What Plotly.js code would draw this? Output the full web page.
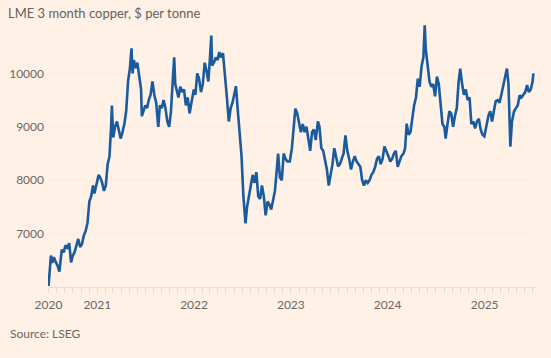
<!DOCTYPE html>
<html>
<head>
<meta charset="utf-8">
<script src="https://cdn.plot.ly/plotly-3.0.1.min.js"></script>
<style>
html,body{margin:0;padding:0;background:#FFF1E5;}
#chart{width:551px;height:358px;}
</style>
</head>
<body>
<div id="chart"></div>
<script>
const dates = [
"2020-07-01","2020-07-03","2020-07-07","2020-07-10","2020-07-15","2020-07-21","2020-07-28","2020-08-04","2020-08-11","2020-08-14",
"2020-08-20","2020-08-27","2020-09-03","2020-09-10","2020-09-17","2020-09-24","2020-09-30","2020-10-07","2020-10-14","2020-10-21",
"2020-10-28","2020-11-04","2020-11-11","2020-11-18","2020-11-25","2020-12-02","2020-12-09","2020-12-16","2020-12-21","2020-12-30",
"2021-01-06","2021-01-12","2021-01-19","2021-01-26","2021-02-02","2021-02-09","2021-02-16","2021-02-22","2021-02-25","2021-03-02",
"2021-03-09","2021-03-16","2021-03-23","2021-03-30","2021-04-06","2021-04-13","2021-04-20","2021-04-27","2021-05-04","2021-05-10",
"2021-05-14","2021-05-19","2021-05-25","2021-06-01","2021-06-08","2021-06-15","2021-06-18","2021-06-24","2021-07-01","2021-07-08",
"2021-07-14","2021-07-21","2021-07-28","2021-08-04","2021-08-11","2021-08-19","2021-08-25","2021-09-01","2021-09-08","2021-09-15",
"2021-09-22","2021-09-29","2021-10-06","2021-10-13","2021-10-18","2021-10-22","2021-10-28","2021-11-03","2021-11-10","2021-11-17",
"2021-11-24","2021-12-01","2021-12-08","2021-12-15","2021-12-22","2021-12-31",
"2022-01-06","2022-01-13","2022-01-20","2022-01-27","2022-02-03","2022-02-10","2022-02-17","2022-02-24","2022-03-02","2022-03-07",
"2022-03-10","2022-03-17","2022-03-24","2022-03-31","2022-04-06","2022-04-12","2022-04-20","2022-04-27","2022-05-04","2022-05-12",
"2022-05-19","2022-05-26","2022-06-02","2022-06-08","2022-06-15","2022-06-22","2022-06-29","2022-07-06","2022-07-14","2022-07-20",
"2022-07-27","2022-08-03","2022-08-10","2022-08-17","2022-08-24","2022-08-31","2022-09-07","2022-09-14","2022-09-21","2022-09-28",
"2022-10-05","2022-10-12","2022-10-19","2022-10-26","2022-11-02","2022-11-09","2022-11-14","2022-11-21","2022-11-28","2022-12-05",
"2022-12-12","2022-12-19","2022-12-28",
"2023-01-05","2023-01-12","2023-01-18","2023-01-25","2023-02-01","2023-02-08","2023-02-15","2023-02-22","2023-03-01","2023-03-08",
"2023-03-15","2023-03-22","2023-03-29","2023-04-05","2023-04-13","2023-04-19","2023-04-26","2023-05-03","2023-05-10","2023-05-17",
"2023-05-24","2023-05-31","2023-06-07","2023-06-14","2023-06-21","2023-06-28","2023-07-05","2023-07-12","2023-07-19","2023-07-26",
"2023-08-02","2023-08-09","2023-08-16","2023-08-23","2023-08-30","2023-09-06","2023-09-13","2023-09-20","2023-09-27","2023-10-04",
"2023-10-11","2023-10-18","2023-10-25","2023-11-01","2023-11-08","2023-11-15","2023-11-22","2023-11-29","2023-12-06","2023-12-13",
"2023-12-20","2023-12-28",
"2024-01-04","2024-01-11","2024-01-18","2024-01-25","2024-02-01","2024-02-08","2024-02-15","2024-02-22","2024-03-01","2024-03-07",
"2024-03-13","2024-03-20","2024-03-27","2024-04-03","2024-04-10","2024-04-17","2024-04-24","2024-05-01","2024-05-08","2024-05-15",
"2024-05-20","2024-05-24","2024-05-31","2024-06-07","2024-06-14","2024-06-21","2024-06-28","2024-07-05","2024-07-12","2024-07-19",
"2024-07-26","2024-08-02","2024-08-07","2024-08-14","2024-08-21","2024-08-28","2024-09-04","2024-09-11","2024-09-18","2024-09-25",
"2024-10-01","2024-10-08","2024-10-15","2024-10-22","2024-10-29","2024-11-05","2024-11-12","2024-11-19","2024-11-26","2024-12-03",
"2024-12-10","2024-12-17","2024-12-24","2024-12-31",
"2025-01-08","2025-01-15","2025-01-22","2025-01-29","2025-02-05","2025-02-12","2025-02-19","2025-02-26","2025-03-05","2025-03-12",
"2025-03-19","2025-03-26","2025-04-01","2025-04-04","2025-04-08","2025-04-14","2025-04-22","2025-04-29","2025-05-06","2025-05-13",
"2025-05-20","2025-05-27","2025-06-03","2025-06-10","2025-06-17","2025-06-24","2025-07-01","2025-07-04"
];
const copperPrice = [
6020,6150,6400,6590,6450,6560,6470,6400,6290,6450,
6700,6650,6780,6740,6820,6460,6580,6650,6760,6900,
6750,6800,6960,7050,7200,7600,7700,7900,7750,7950,
8100,8050,7960,7800,7900,8300,8450,9000,9400,8800,
9000,9100,8950,8780,8900,9050,9300,9850,10100,10470,
10000,10250,10100,10200,9950,9700,9200,9300,9400,9350,
9500,9600,9850,9600,9450,9000,9400,9350,9500,9350,
9100,9000,9300,9900,10300,9800,9650,9550,9750,9650,
9700,9400,9550,9250,9450,9700,
9600,10000,9900,9650,9800,10200,10050,9850,10300,10710,
10150,10200,10300,10250,10400,10300,10380,9900,9600,9100,
9350,9450,9600,9760,9300,8800,8450,7700,7190,7500,
7750,7900,8100,7950,8150,7700,7650,7900,7700,7340,
7600,7550,7450,7600,7800,8200,8500,8050,8000,8500,
8400,8350,8350,
8600,9050,9340,9250,9050,8900,9050,8900,9000,8800,
8550,8900,8950,8750,9100,9000,8600,8550,8400,8200,
7900,8100,8300,8600,8400,8260,8300,8400,8500,8840,
8550,8400,8200,8350,8450,8350,8300,8250,8000,7900,
8000,7950,8000,8100,8150,8250,8400,8450,8300,8400,
8630,8550,
8450,8350,8400,8500,8550,8250,8350,8450,8500,8600,
9060,8850,8900,9200,9400,9550,9900,9750,10130,10300,
10900,10450,10090,9850,9750,9800,9570,9940,9800,9450,
9050,9000,8780,9050,9290,9250,9000,9200,9350,9850,
10090,9800,9600,9700,9500,9550,9050,9100,8970,9100,
9150,8950,8850,8820,
9000,9200,9290,9100,9300,9480,9500,9450,9600,9780,
9900,10090,9800,9200,8630,9100,9290,9350,9400,9590,
9550,9600,9650,9780,9650,9700,9850,10000
];
const xTickVals = ["2020-07-01","2021-01-01","2022-01-01","2023-01-01","2024-01-01","2025-01-01"];
const xTickText = ["2020","2021","2022","2023","2024","2025"];
const yTickVals = [7000,8000,9000,10000];
const yTickText = ["7000","8000","9000","10000"];
const chartTitle = "LME 3 month copper, $ per tonne";
const sourceText = "Source: LSEG";

const FONT = "Lato, 'Open Sans', sans-serif";
const GREY = "#6E6762";

const trace = {
  x: dates, y: copperPrice, type: "scatter", mode: "lines",
  line: {color: "#1a5a9e", width: 2.6, shape: "linear"},
  hoverinfo: "skip"
};

const layout = {
  width: 551, height: 358,
  paper_bgcolor: "#FFF1E5", plot_bgcolor: "#FFF1E5",
  margin: {l: 48, r: 16, t: 20, b: 71},
  showlegend: false,
  font: {family: FONT, color: GREY, size: 12},
  title: {
    text: chartTitle, xref: "container", yref: "container",
    x: 8/551, xanchor: "left", y: 1 - 13/358, yanchor: "middle",
    font: {family: FONT, size: 13, color: "#66605C"}
  },
  xaxis: {
    type: "date", range: ["2020-06-29", "2025-07-10"],
    tickmode: "array", tickvals: xTickVals, ticktext: xTickText,
    ticks: "outside", ticklen: 5, tickcolor: "#E6D6C8", tickwidth: 1,
    ticklabelstandoff: 2,
    showgrid: false, zeroline: false,
    showline: true, linecolor: "#EADBCF", linewidth: 1,
    tickfont: {family: FONT, size: 12, color: GREY},
    minor: {tickmode: "linear", dtick: "M1", tick0: "2020-07-01", ticks: "outside", ticklen: 5, tickcolor: "#E6D6C8", tickwidth: 1, showgrid: false},
    fixedrange: true
  },
  yaxis: {
    range: [6000, 11000],
    tickmode: "array", tickvals: yTickVals, ticktext: yTickText,
    ticks: "", showline: false, zeroline: false,
    showgrid: true, gridcolor: "#FAECE0", gridwidth: 1,
    ticklabelstandoff: 3,
    tickfont: {family: FONT, size: 12, color: GREY},
    fixedrange: true
  },
  annotations: [{
    text: sourceText, xref: "paper", yref: "paper",
    x: (8 - 48) / 487, xanchor: "left",
    y: (287 - 333) / 267, yanchor: "middle",
    showarrow: false, font: {family: FONT, size: 12, color: GREY}
  }]
};

Plotly.newPlot("chart", [trace], layout, {displayModeBar: false, staticPlot: true});
</script>
</body>
</html>
